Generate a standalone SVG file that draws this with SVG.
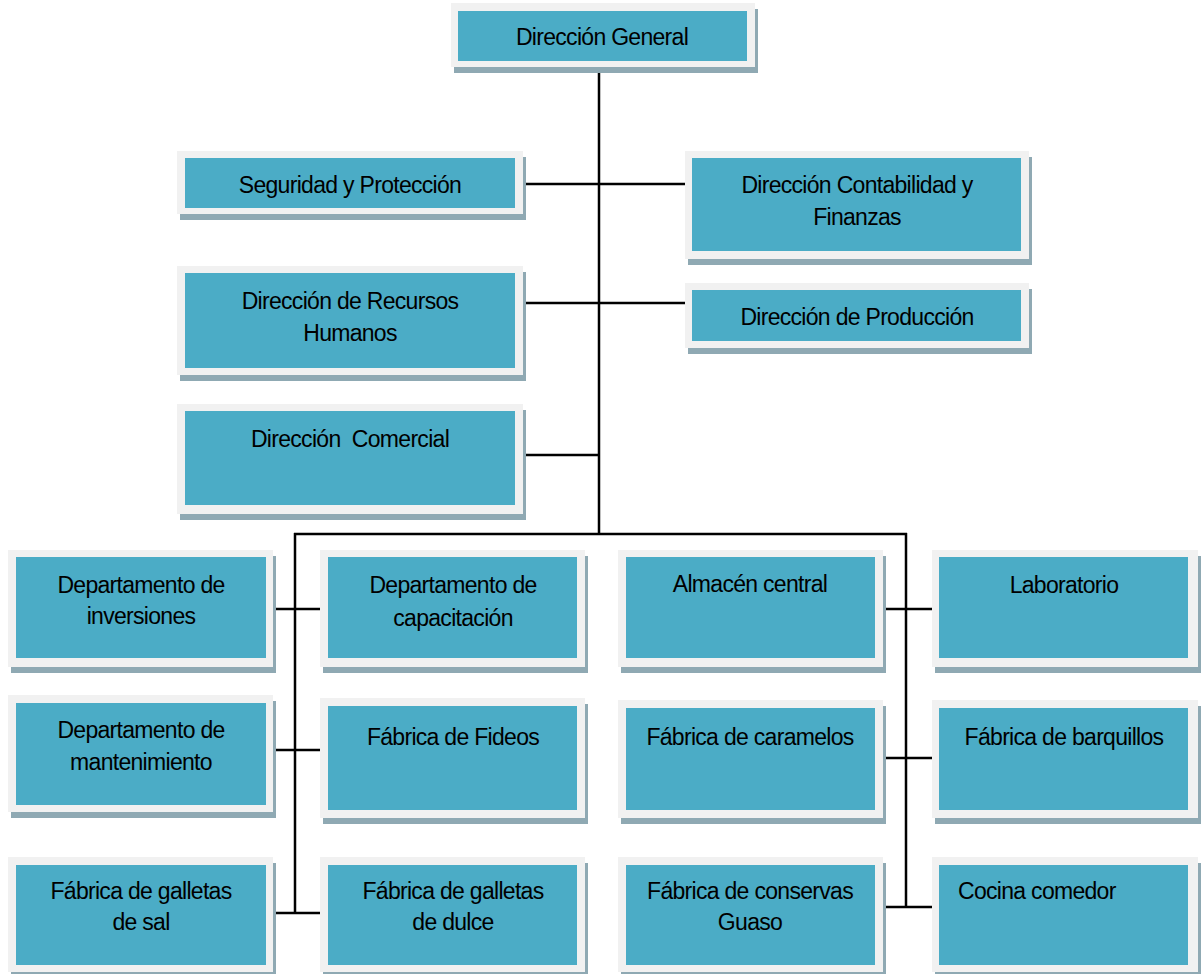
<svg xmlns="http://www.w3.org/2000/svg" width="1201" height="974" viewBox="0 0 1201 974">
<style>
.sh{fill:#8fa9b3}
.fr{fill:#f1f1f1}
.in{fill:#4bacc6}
text{font-family:"Liberation Sans",Arial,sans-serif;font-size:23px;letter-spacing:-0.7px;fill:#000;text-anchor:middle}
.cn line{stroke:#000;stroke-width:2.5}
</style>
<rect width="1201" height="974" fill="#fff"/>
<g class="cn">
<line x1="599" y1="67" x2="599" y2="534"/>
<line x1="523" y1="184" x2="685" y2="184"/>
<line x1="523" y1="303" x2="685" y2="303"/>
<line x1="523" y1="455" x2="599" y2="455"/>
<line x1="294" y1="534" x2="907" y2="534"/>
<line x1="295" y1="533" x2="295" y2="914"/>
<line x1="906" y1="533" x2="906" y2="908"/>
<line x1="270" y1="609" x2="323" y2="609"/>
<line x1="270" y1="750" x2="323" y2="750"/>
<line x1="270" y1="913" x2="324" y2="913"/>
<line x1="881" y1="609" x2="935" y2="609"/>
<line x1="881" y1="758" x2="935" y2="758"/>
<line x1="881" y1="907" x2="935" y2="907"/>
</g>
<g id="n-general"><rect class="sh" x="454" y="9" width="304" height="64"/><rect class="fr" x="451" y="3" width="304" height="64"/><rect class="in" x="458" y="11" width="289" height="50"/><text x="602" y="45">Dirección General</text></g>
<g id="n-seguridad"><rect class="sh" x="180" y="157" width="346" height="63"/><rect class="fr" x="177" y="151" width="346" height="63"/><rect class="in" x="185" y="158" width="330" height="50"/><text x="350" y="193">Seguridad y Protección</text></g>
<g id="n-contabilidad"><rect class="sh" x="688" y="157" width="344" height="108"/><rect class="fr" x="685" y="151" width="344" height="108"/><rect class="in" x="692" y="158" width="329" height="93"/><text x="857" y="193">Dirección Contabilidad y</text><text x="857" y="225">Finanzas</text></g>
<g id="n-rrhh"><rect class="sh" x="180" y="272" width="346" height="109"/><rect class="fr" x="177" y="266" width="346" height="109"/><rect class="in" x="185" y="273" width="330" height="95"/><text x="350" y="309">Dirección de Recursos</text><text x="350" y="341">Humanos</text></g>
<g id="n-produccion"><rect class="sh" x="688" y="289" width="344" height="65"/><rect class="fr" x="685" y="283" width="344" height="65"/><rect class="in" x="692" y="290" width="329" height="51"/><text x="857" y="325">Dirección de Producción</text></g>
<g id="n-comercial"><rect class="sh" x="180" y="410" width="346" height="110"/><rect class="fr" x="177" y="404" width="346" height="110"/><rect class="in" x="185" y="411" width="330" height="94"/><text x="350" y="447" xml:space="preserve">Dirección  Comercial</text></g>
<g id="n-inversiones"><rect class="sh" x="11" y="556" width="265" height="117"/><rect class="fr" x="8" y="550" width="265" height="117"/><rect class="in" x="16" y="557" width="250" height="101"/><text x="141" y="593">Departamento de</text><text x="141" y="624">inversiones</text></g>
<g id="n-capacitacion"><rect class="sh" x="323" y="556" width="265" height="117"/><rect class="fr" x="320" y="550" width="265" height="117"/><rect class="in" x="328" y="557" width="249" height="101"/><text x="453" y="593">Departamento de</text><text x="453" y="626">capacitación</text></g>
<g id="n-almacen"><rect class="sh" x="621" y="556" width="265" height="117"/><rect class="fr" x="618" y="550" width="265" height="117"/><rect class="in" x="626" y="557" width="249" height="101"/><text x="750" y="592">Almacén central</text></g>
<g id="n-laboratorio"><rect class="sh" x="935" y="556" width="266" height="117"/><rect class="fr" x="932" y="550" width="266" height="117"/><rect class="in" x="939" y="557" width="249" height="101"/><text x="1064" y="593">Laboratorio</text></g>
<g id="n-mantenimiento"><rect class="sh" x="11" y="701" width="265" height="117"/><rect class="fr" x="8" y="695" width="265" height="117"/><rect class="in" x="16" y="703" width="250" height="102"/><text x="141" y="738">Departamento de</text><text x="141" y="770">mantenimiento</text></g>
<g id="n-fideos"><rect class="sh" x="323" y="704" width="265" height="120"/><rect class="fr" x="320" y="698" width="265" height="120"/><rect class="in" x="328" y="706" width="249" height="104"/><text x="453" y="745">Fábrica de Fideos</text></g>
<g id="n-caramelos"><rect class="sh" x="621" y="706" width="265" height="118"/><rect class="fr" x="618" y="700" width="265" height="118"/><rect class="in" x="626" y="708" width="249" height="102"/><text x="750" y="745">Fábrica de caramelos</text></g>
<g id="n-barquillos"><rect class="sh" x="935" y="706" width="266" height="118"/><rect class="fr" x="932" y="700" width="266" height="118"/><rect class="in" x="939" y="708" width="249" height="102"/><text x="1064" y="745">Fábrica de barquillos</text></g>
<g id="n-galletas-sal"><rect class="sh" x="11" y="863" width="265" height="115"/><rect class="fr" x="8" y="857" width="265" height="115"/><rect class="in" x="16" y="865" width="250" height="100"/><text x="141" y="899">Fábrica de galletas</text><text x="141" y="930">de sal</text></g>
<g id="n-galletas-dulce"><rect class="sh" x="323" y="863" width="265" height="115"/><rect class="fr" x="320" y="857" width="265" height="115"/><rect class="in" x="328" y="865" width="249" height="100"/><text x="453" y="899">Fábrica de galletas</text><text x="453" y="930">de dulce</text></g>
<g id="n-conservas"><rect class="sh" x="621" y="863" width="265" height="115"/><rect class="fr" x="618" y="857" width="265" height="115"/><rect class="in" x="626" y="865" width="249" height="100"/><text x="750" y="899">Fábrica de conservas</text><text x="750" y="930">Guaso</text></g>
<g id="n-cocina"><rect class="sh" x="935" y="863" width="266" height="115"/><rect class="fr" x="932" y="857" width="266" height="115"/><rect class="in" x="939" y="865" width="249" height="100"/><text x="958" y="899" style="text-anchor:start">Cocina comedor</text></g>
</svg>
